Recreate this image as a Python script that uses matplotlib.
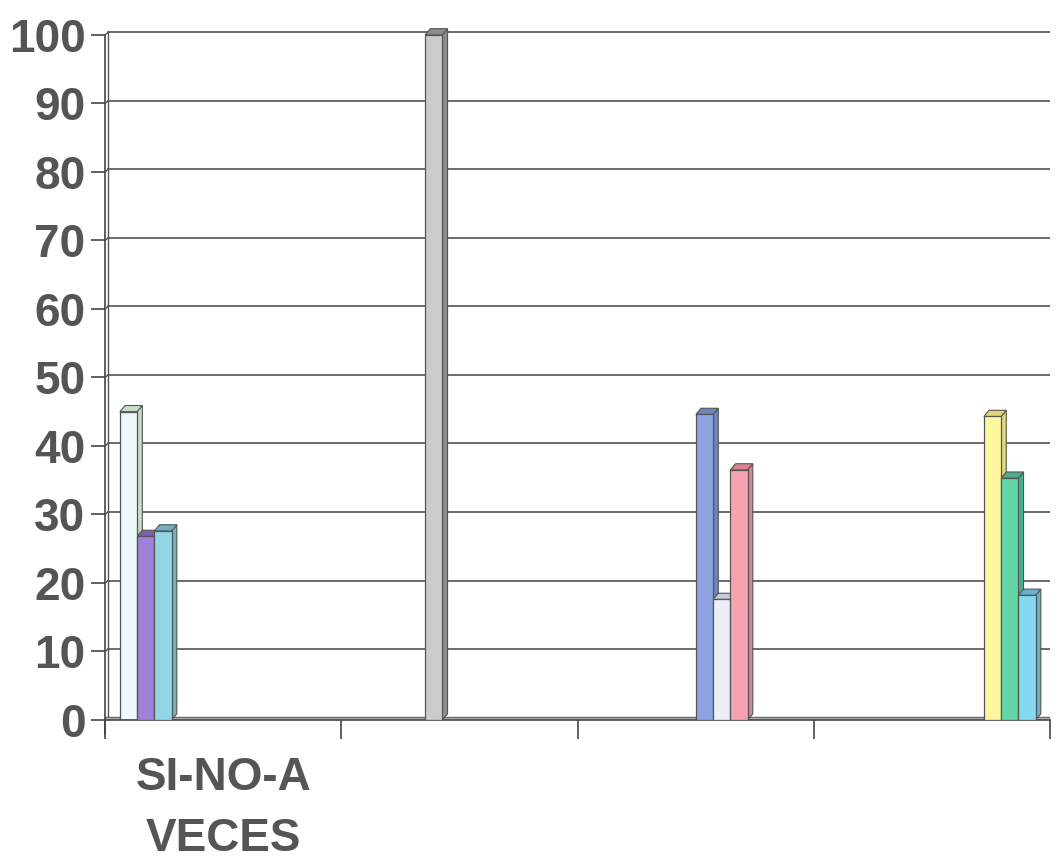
import matplotlib.pyplot as plt
import numpy as np

# categorias (solo la primera lleva texto)
categorias = ["SI-NO-A\nVECES", "", "", ""]

# valores por serie, una fila por serie, una columna por categoria
serie_valores = [
    [45.0, 0, 0, 0],
    [26.8, 0, 0, 0],
    [27.6, 0, 0, 0],
    [0, 0, 0, 0],
    [0, 100.0, 0, 0],
    [0, 0, 0, 0],
    [0, 0, 44.6, 0],
    [0, 0, 17.6, 0],
    [0, 0, 36.5, 0],
    [0, 0, 0, 44.3],
    [0, 0, 0, 35.3],
    [0, 0, 0, 18.2],
    [0, 0, 0, 0],
]
colores = [
    "#eef8f8", "#9d82d8", "#92d6e6", "#d0d0d0", "#cbcbcb", "#d0d0d0",
    "#8ea4e0", "#eeeef8", "#f5a2b2", "#fff79e", "#62d6a6", "#84d8f2", "#e0e0e0",
]
lados = [
    "#c8dcc8", "#7a62b0", "#70b0c0", "#a0a0a0", "#8c8c8c", "#a0a0a0",
    "#6e84c0", "#c8c8d8", "#d88494", "#e0d878", "#48b088", "#66b4cc", "#b0b0b0",
]

yticks = list(range(0, 101, 10))

plt.rcParams["font.family"] = ["Liberation Sans", "DejaVu Sans"]

n = len(serie_valores)
ancho = 0.073
inicio = 0.063
dx = 0.022   # profundidad (unidades de categoria)
dy = 0.9     # profundidad (unidades de valor)

fig = plt.figure(figsize=(10.57, 8.66), dpi=100)
ax = fig.add_axes([105 / 1057, 146 / 866, 945 / 1057, 692 / 866])

# lineas de la pared
for y in yticks:
    ax.plot([0, dx * 0.6], [y, y + dy * 0.4], color="#555555", lw=1.0, zorder=1)
    ax.plot([dx * 0.6, 4], [y + dy * 0.4, y + dy * 0.4], color="#444444", lw=1.1, zorder=1)
ax.plot([dx * 0.6, dx * 0.6], [dy * 0.4, 100 + dy * 0.4], color="#555555", lw=1.0, zorder=1)
# suelo
ax.fill_between([0, 4], [0, 0], [dy * 0.5, dy * 0.5], color="#bbbbbb", zorder=1.5, lw=0)
ax.plot([0, 4], [dy * 0.5, dy * 0.5], color="#666666", lw=1.0, zorder=1.6)

for i in range(n):
    for c in range(len(categorias)):
        v = serie_valores[i][c]
        if v <= 0:
            continue
        x0 = c + inicio + i * ancho
        # cara lateral
        ax.fill([x0 + ancho, x0 + ancho + dx, x0 + ancho + dx, x0 + ancho],
                [0, dy, v + dy, v], color=lados[i], ec="#555555", lw=0.8, zorder=2 + i * 0.01)
        # cara superior
        ax.fill([x0, x0 + dx, x0 + ancho + dx, x0 + ancho],
                [v, v + dy, v + dy, v], color=lados[i], ec="#555555", lw=0.8, zorder=2 + i * 0.01)
        ax.bar(x0, v, width=ancho, align="edge", color=colores[i],
               edgecolor="#555555", lw=0.9, zorder=2.5 + i * 0.01)

ax.set_xlim(0, 4)
ax.set_ylim(0, 101)
ax.set_yticks(yticks)
ax.set_yticklabels([str(t) for t in yticks], fontsize=33, fontweight="bold", color="#555555")
ax.set_xticks(range(5))
ax.set_xticklabels([""] * 5)
ax.set_xticks(np.arange(4) + 0.5, minor=True)
ax.set_xticklabels(categorias, minor=True, fontsize=33, fontweight="bold",
                   color="#555555", linespacing=1.5)
ax.tick_params(axis="x", which="minor", length=0, pad=26)
ax.tick_params(axis="x", which="major", length=14, width=1.2, color="#444444", direction="out")
ax.tick_params(axis="y", length=10, width=1.2, color="#444444", pad=4)

for s in ["top", "right"]:
    ax.spines[s].set_visible(False)
ax.spines["left"].set_color("#444444")
ax.spines["bottom"].set_color("#444444")
ax.spines["left"].set_linewidth(1.2)
ax.spines["bottom"].set_linewidth(1.2)
ax.spines["left"].set_bounds(-2, 100)

plt.savefig("out.png", dpi=100)
